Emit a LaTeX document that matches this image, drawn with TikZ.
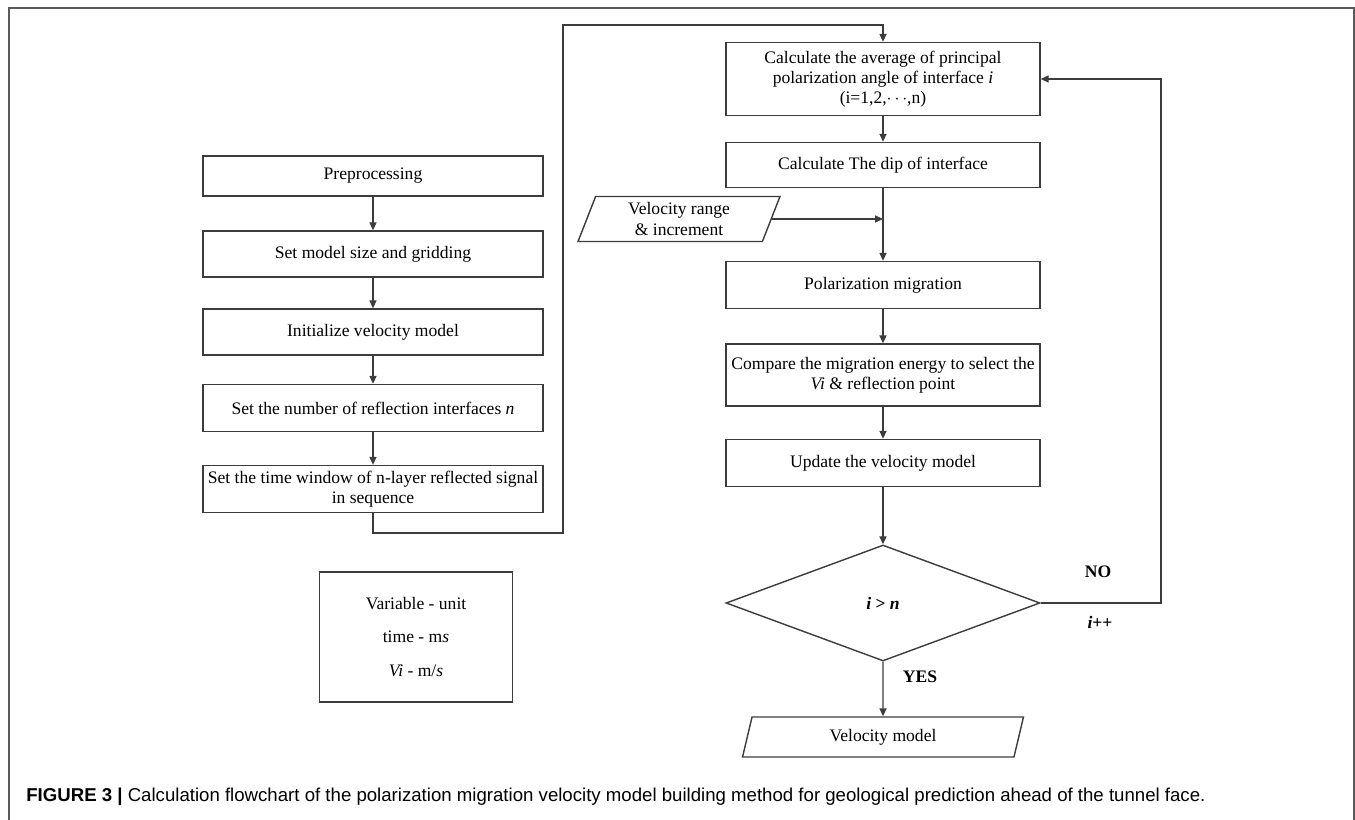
\documentclass[tikz,border=0pt]{standalone}
\usepackage{fontspec}
\setmainfont{Liberation Serif}
\newfontfamily\capfont{Liberation Sans}
\usepackage{xcolor}
\usetikzlibrary{arrows.meta, shapes.geometric, positioning}
\definecolor{linegray}{HTML}{3C3C3C}
\definecolor{framegray}{HTML}{5A5A5A}

\begin{document}
\begin{tikzpicture}[x=0.02cm, y=-0.02cm,
  every node/.style={font=\fontsize{10}{11.5}\selectfont},
  box/.style={draw=linegray, line width=0.8pt, align=center, inner xsep=1pt, inner ysep=2pt},
  lbox/.style={box, minimum width=6.8cm},
  rbox/.style={box, minimum width=6.28cm},
  io/.style={draw=linegray, line width=0.8pt, trapezium, trapezium left angle=64,
    trapezium right angle=116, trapezium stretches body, align=center, inner sep=1pt},
  flow/.style={draw=linegray, line width=0.8pt, -{Triangle[length=4.5pt,width=4pt]}},
  tag/.style={font=\fontsize{10}{12}\selectfont\bfseries}]

  \useasboundingbox (0,0) rectangle (1355,820);
  % outer frame
  \draw[framegray, line width=1pt] (9,820) -- (9,8) -- (1354,8) -- (1354,820);

  % left column
  \node[lbox, minimum height=0.8cm] (pre) at (373,176) {Preprocessing};
  \node[lbox, minimum height=0.92cm] (size) at (373,254) {Set model size and gridding};
  \node[lbox, minimum height=0.92cm] (init) at (373,332) {Initialize velocity model};
  \node[lbox, minimum height=0.94cm] (num) at (373,408) {Set the number of reflection interfaces \textit{n}};
  \node[lbox, minimum height=0.94cm] (win) at (373,489) {Set the time window of n-layer reflected signal\\in sequence};

  % unit table
  \node[draw=linegray, line width=0.8pt, minimum width=3.86cm, minimum height=2.6cm, align=center]
    (key) at (416,637) {Variable - unit\\[7.5pt]time - m\textit{s}\\[7.5pt]\textit{Vi} - m/\textit{s}};

  % right column
  \node[rbox, minimum height=1.46cm] (avg) at (883,79)
    {Calculate the average of principal\\polarization angle of interface \textit{i}\\(i=1,2,$\cdots$,n)};
  \node[rbox, minimum height=0.9cm] (dip) at (883,165) {Calculate The dip of interface};
  \node[io, minimum width=4.04cm, minimum height=0.9cm] (vel) at (679,219) {Velocity range\\\& increment};
  \node[rbox, minimum height=0.94cm] (mig) at (883,285) {Polarization migration};
  \node[rbox, minimum height=1.24cm] (cmp) at (883,375)
    {Compare the migration energy to select the\\\textit{Vi} \& reflection point};
  \node[rbox, minimum height=0.94cm] (upd) at (883,463) {Update the velocity model};
  \node[diamond, draw=linegray, line width=0.8pt, minimum width=6.28cm, minimum height=2.32cm]
    (chk) at (883,603) {\textbf{\textit{i}} \textbf{>} \textbf{\textit{n}}};
  \node[io, minimum width=5.62cm, minimum height=0.8cm] (out) at (883,737) {Velocity model};

  % branch labels
  \node[tag] (no) at (1098,572) {NO};
  \node[tag] (inc) at (1100,622) {\textit{i}++};
  \node[tag] (yes) at (920,677) {YES};

  % left column arrows
  \draw[flow] (pre) -- (size);
  \draw[flow] (size) -- (init);
  \draw[flow] (init) -- (num);
  \draw[flow] (num) -- (win);

  % jump to the right column
  \coordinate (down) at (373,533);
  \coordinate (up) at (563,25);
  \draw[flow] (win.south) -- (down) -| (up) -| (avg.north);

  % right column arrows
  \draw[flow] (avg) -- (dip);
  \draw[flow] (dip) -- (mig);
  \coordinate (join) at (dip.south |- vel.east);
  \draw[flow] (vel.east) -- (join);
  \draw[flow] (mig) -- (cmp);
  \draw[flow] (cmp) -- (upd);
  \draw[flow] (upd) -- (chk);
  \draw[flow] (chk) -- (out);

  % loop back
  \coordinate (loop) at (1161,603);
  \draw[flow] (chk.east) -- (loop) |- (avg.east);

  % caption
  \node[anchor=base west, inner sep=0, font=\capfont\fontsize{10.6}{12}\selectfont] (cap) at (26,801)
    {\textbf{FIGURE 3 |} Calculation flowchart of the polarization migration velocity model building method for geological prediction ahead of the tunnel face.};
\end{tikzpicture}
\end{document}
